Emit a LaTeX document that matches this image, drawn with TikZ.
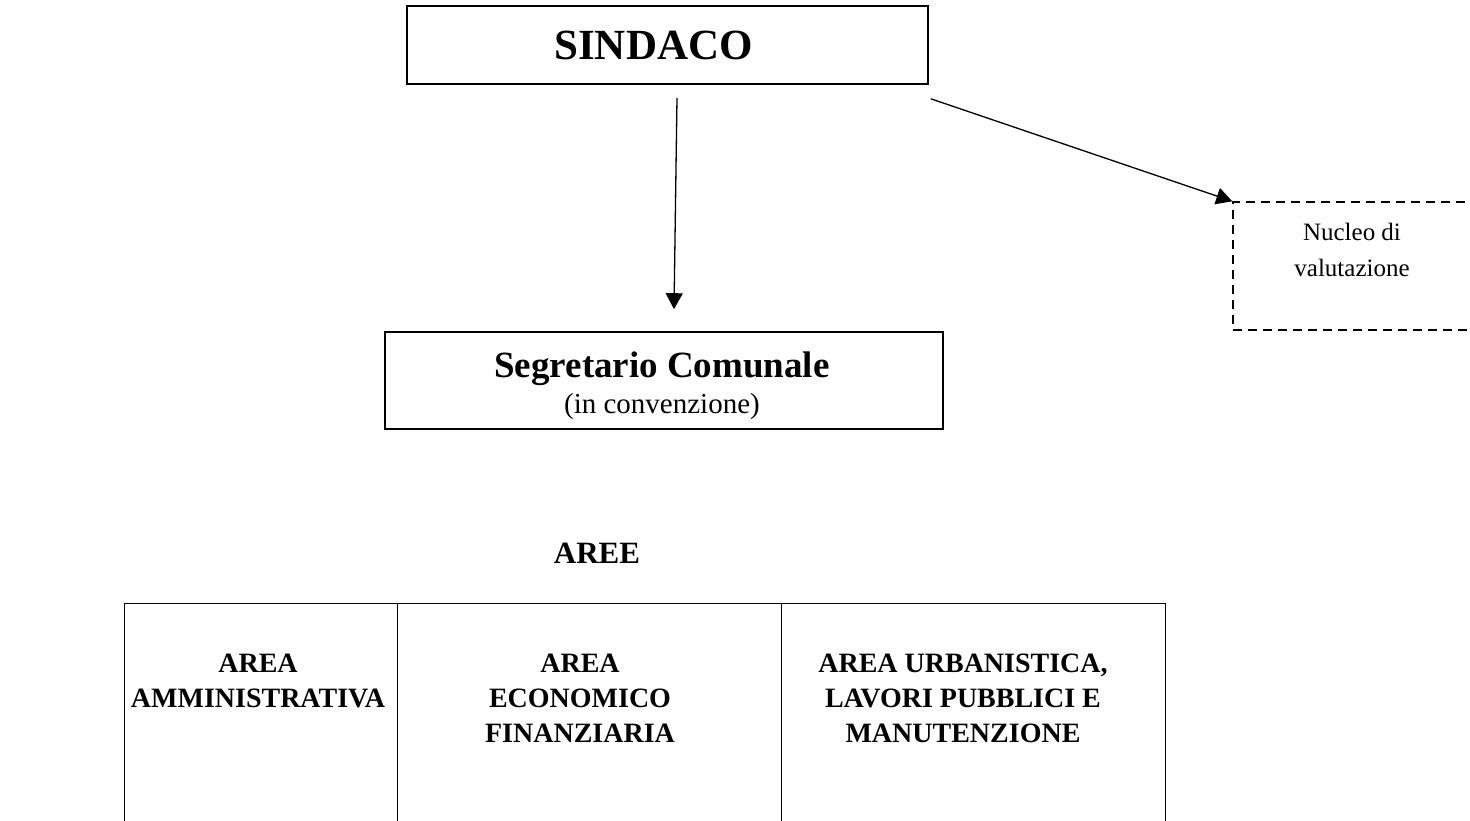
\documentclass[tikz,border=0pt]{standalone}
\usepackage{fontspec}
\setmainfont{Liberation Serif}
\usetikzlibrary{arrows.meta}

\tikzset{
  box/.style={draw, line width=1.6pt, inner sep=0pt},
  cellbox/.style={draw, line width=1.1pt, inner sep=0pt, anchor=north west, minimum height=240pt},
  dashbox/.style={draw, line width=1.4pt, dash pattern=on 9pt off 6pt, inner sep=0pt},
  arr/.style={line width=1.3pt, -{Triangle[length=16pt,width=17pt]}},
  celltxt/.style={align=center, font=\fontsize{28}{35}\selectfont\bfseries}
}

\begin{document}
\begin{tikzpicture}[x=1pt,y=-1pt]
  \useasboundingbox (0,0) rectangle (1470,821);
  \clip (0,0) rectangle (1470,821);
  % vertici
  \node[box, minimum width=521pt, minimum height=78pt] (sindaco) at (667.5,45)
    {\fontsize{43}{48}\selectfont\bfseries SINDACO\hspace*{28pt}};
  \node[box, minimum width=558pt, minimum height=97pt] (segretario) at (664,380.5) {};
  \node[align=center, font=\fontsize{29}{36}\selectfont] (segrtxt) at (662,386)
    {{\fontsize{37}{36}\selectfont\bfseries Segretario Comunale}\\
     (in convenzione)};
  \node[dashbox, minimum width=247pt, minimum height=128pt] (nucleo) at (1356.5,266) {};
  \node[align=center, font=\fontsize{25}{36}\selectfont] (nucleotxt) at (1352,250)
    {Nucleo di\\valutazione};
  % frecce
  \draw[arr] ([xshift=9.5pt,yshift=-13pt]sindaco.south) -- ([xshift=10pt,yshift=22pt]segretario.north);
  \draw[arr] ([xshift=2pt,yshift=-14pt]sindaco.south east) -- (nucleo.north west);
  % aree
  \node (aree) at (597,553) {\fontsize{31}{36}\selectfont\bfseries AREE};
  \node[cellbox, minimum width=273pt] (cella) at (124,603) {};
  \node[cellbox, minimum width=384pt] (cellb) at (397,603) {};
  \node[cellbox, minimum width=384pt] (cellc) at (781,603) {};
  \node[celltxt] (areaa) at (258,680.5) {AREA\\AMMINISTRATIVA};
  \node[celltxt] (areab) at (580,698) {AREA\\ECONOMICO\\FINANZIARIA};
  \node[celltxt] (areac) at (963,698) {AREA URBANISTICA,\\LAVORI PUBBLICI E\\MANUTENZIONE};
\end{tikzpicture}
\end{document}
